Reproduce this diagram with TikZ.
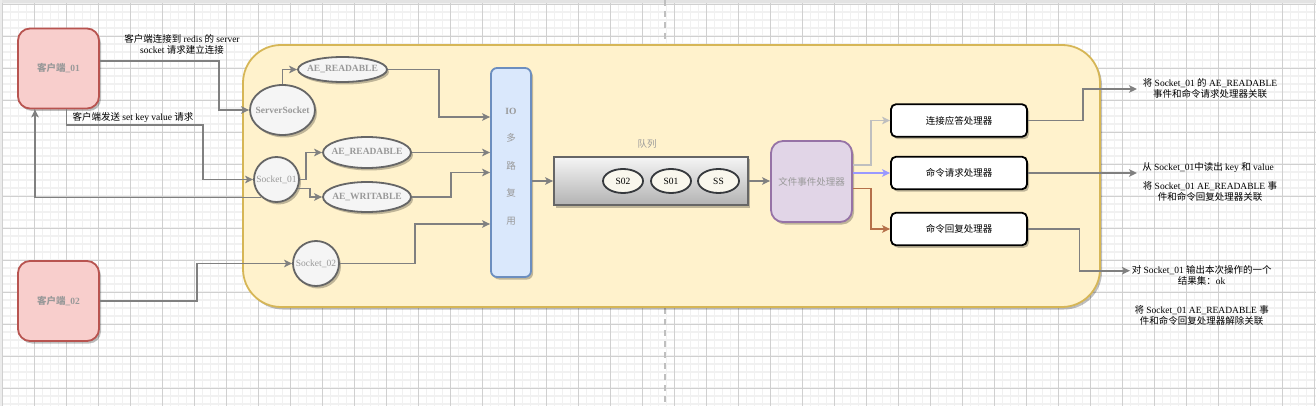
\documentclass[tikz,border=0pt]{standalone}
\usepackage{fontspec}
\setmainfont{Liberation Serif}
\newfontfamily\cjk{Noto Sans CJK SC}
\usetikzlibrary{shapes.geometric,arrows.meta,shadows,calc}
\newcommand\zh[1]{{\cjk #1}}
\newcommand\zb[1]{\makebox[0pt]{#1}}
\definecolor{pinkf}{HTML}{F8CECC}
\definecolor{pinkd}{HTML}{B85450}
\definecolor{yelf}{HTML}{FFF2CC}
\definecolor{yeld}{HTML}{D6B656}
\definecolor{bluef}{HTML}{DAE8FC}
\definecolor{blued}{HTML}{6C8EBF}
\definecolor{purf}{HTML}{E1D5E7}
\definecolor{purd}{HTML}{9673A6}
\definecolor{ellf}{HTML}{F5F5F5}
\definecolor{elld}{HTML}{666666}
\definecolor{sf}{HTML}{F9F7ED}
\definecolor{sd}{HTML}{36393D}
\definecolor{lineg}{HTML}{808080}
\definecolor{labg}{HTML}{999999}
\definecolor{gridmaj}{HTML}{D0D0D0}
\definecolor{gridmin}{HTML}{F1F1F1}
\definecolor{lgray}{HTML}{BFBFBF}
\definecolor{lblue}{HTML}{9999FF}
\definecolor{lbrown}{HTML}{B5704A}
\begin{document}
\begin{tikzpicture}[x=1pt,y=-1pt,
  txt/.style={font=\fontsize{9.5}{11.5}\selectfont, inner sep=0pt, align=center},
  shad/.style={drop shadow={shadow xshift=2pt,shadow yshift=-2.5pt,opacity=0.25,fill=black}},
  client/.style={txt, draw=pinkd, fill=pinkf, line width=1.8pt, rounded corners=12pt, minimum width=81pt, minimum height=80pt, text=labg, font=\fontsize{9.5}{11.5}\selectfont\bfseries, shad},
  evt/.style={txt, ellipse, draw=elld, fill=ellf, line width=1.8pt, text=labg, shad},
  evtb/.style={evt, font=\fontsize{9.5}{11.5}\selectfont\bfseries},
  sitem/.style={txt, ellipse, draw=sd, fill=sf, line width=1.8pt, minimum width=40pt, minimum height=24pt},
  handler/.style={txt, draw=black, fill=white, line width=1.8pt, rounded corners=5pt, minimum width=136pt, minimum height=32.5pt, shad},
  conn/.style={draw=lineg, line width=1.6pt, -{Stealth[length=8pt,width=7.5pt,inset=2pt]}},
  note/.style={txt, text=black}
]
\useasboundingbox (0,0) rectangle (1316,406);
% background grid
\fill[white] (0,0) rectangle (1316,406);
\foreach \k in {0,...,164} \draw[gridmin, line width=1.3pt] ({2.5+8*\k},0) -- ({2.5+8*\k},406);
\foreach \k in {0,...,51} \draw[gridmin, line width=1.3pt] (0,{4+8*\k}) -- (1316,{4+8*\k});
\foreach \k in {0,...,41} \draw[gridmaj, line width=0.9pt] ({2.5+32*\k},0) -- ({2.5+32*\k},406);
\foreach \k in {0,...,12} \draw[gridmaj, line width=0.9pt] (0,{4+32*\k}) -- (1316,{4+32*\k});
\fill[gray!22] (0,0) rectangle (1316,3.5);
\fill[gray!15] (0,0) rectangle (2,406);
\draw[lgray, line width=2pt, dash pattern=on 6pt off 5pt] (665,0) -- (665,406);

% container
\node[draw=yeld, fill=yelf, line width=1.8pt, rounded corners=38pt, minimum width=857pt, minimum height=262pt, inner sep=0pt, shad] (cont) at (671.5,176) {};

% clients
\node[client] (c1) at (58.5,68.5) {\zh{客户端}\_01};
\node[client] (c2) at (58.5,301) {\zh{客户端}\_02};

% sockets and events
\node[evtb, minimum width=65pt, minimum height=50pt] (ss) at (282.5,110) {\zb{ServerSocket}};
\node[evtb, minimum width=89pt, minimum height=25pt] (aer1) at (342.5,69.5) {\zb{AE\_READABLE}};
\node[evt, minimum width=45pt, minimum height=45pt] (s01) at (276.5,179.5) {\zb{Socket\_01}};
\node[evtb, minimum width=88pt, minimum height=31pt] (aer2) at (367,152.5) {\zb{AE\_READABLE}};
\node[evtb, minimum width=88pt, minimum height=30pt] (aew) at (367,197) {\zb{AE\_WRITABLE}};
\node[evt, minimum width=46pt, minimum height=45pt] (s02) at (316,263.5) {\zb{Socket\_02}};

% IO multiplexing
\node[txt, draw=blued, fill=bluef, line width=1.8pt, rounded corners=6pt, minimum width=40pt, minimum height=209pt, shad,
  label={[txt, text=labg, yshift=5.8pt, font=\fontsize{9.5}{27.5}\selectfont]center:{\textbf{IO}\\\zh{多}\\\zh{路}\\\zh{复}\\\zh{用}}}] (io) at (511,172.5) {};

% queue
\node[txt, draw=elld, line width=1.8pt, top color=ellf, bottom color=gray!60, minimum width=194pt, minimum height=48pt, shad] (q) at (651,181) {};
\node[txt, text=labg] (qlab) at (647,144) {\zh{队列}};
\node[sitem] (e1) at (623,181) {\zb{S02}};
\node[sitem] (e2) at (671,181) {\zb{S01}};
\node[sitem, minimum width=41pt] (e3) at (718.5,181) {\zb{SS}};

% file event handler
\node[txt, draw=purd, fill=purf, line width=1.8pt, rounded corners=12pt, minimum width=81pt, minimum height=81pt, text=labg, shad] (fe) at (811.5,181.5) {\zh{文件事件处理器}};

% handlers
\node[handler] (h1) at (959,120.5) {\zh{连接应答处理器}};
\node[handler] (h2) at (959,173) {\zh{命令请求处理器}};
\node[handler] (h3) at (959,229) {\zh{命令回复处理器}};

% notes
\node[note] (lab1) at (182,44.5) {\zh{客户端连接到} redis \zh{的} server\\socket \zh{请求建立连接}};
\node[note] (lab2) at (133,117) {\zh{客户端发送} set key value \zh{请求}};
\node[note] (n1) at (1210,88.5) {\zh{将} Socket\_01 \zh{的} AE\_READABLE\\\zh{事件和命令请求处理器关联}};
\node[note] (n2) at (1208,167.3) {\zh{从} Socket\_01\zh{中读出} key \zh{和} value};
\node[note] (n3) at (1210,191.3) {\zh{将} Socket\_01 AE\_READABLE \zh{事}\\\zh{件和命令回复处理器关联}};
\node[note] (n4) at (1201.7,275.5) {\zh{对} Socket\_01 \zh{输出本次操作的一个}\\\zh{结果集：}ok};
\node[note] (n5) at (1201.7,315.3) {\zh{将} Socket\_01 AE\_READABLE \zh{事}\\\zh{件和命令回复处理器解除关联}};
\coordinate (t1) at (1137,89);
\coordinate (t2) at (1137,173);
\coordinate (t3) at (1130,270.7);

% connectors
\draw[conn] ([yshift=7.5pt]c1.east) -| (219,90) |- (ss.west);
\draw[conn] ([xshift=8pt]c1.south) |- (203,125) |- (s01.west);
\draw[conn] (s01.230) -| ([xshift=-23.5pt]c1.south);
\draw[conn] (ss.north) |- (aer1.west);
\draw[conn] (s01.east) -| (306,165) |- (aer2.west);
\draw[conn] (s01.-23) -| (310,192) |- (aew.west);
\draw[conn] (aer1.east) -| (439,90) |- ([yshift=55.5pt]io.west);
\draw[conn] (aer2.east) -- (io.west|-aer2.east);
\draw[conn] (aew.east) -| (450.7,185) |- (io.west);
\draw[conn] (s02.east) -| (415,240) |- ([yshift=-51.5pt]io.west);
\draw[conn] (c2.east) -| (196.7,280) |- (s02.west);
\draw[conn] (io.east|-q.west) -- (q.west);
\draw[conn] (q.east) -- (q.east-|fe.west);
\draw[conn, draw=lgray] ([yshift=16.5pt]fe.east) -| (870.7,140) |- (h1.west);
\draw[conn, draw=lblue] (fe.east|-h2.west) -- (h2.west);
\draw[conn, draw=lbrown] ([yshift=-7pt]fe.east) -| (870.7,210) |- (h3.west);
\draw[conn] (h1.east) -| (1083,100) |- (t1);
\draw[conn] (h2.east) -- (t2);
\draw[conn] (h3.east) -| (1079.3,250) |- (t3);
\end{tikzpicture}
\end{document}
